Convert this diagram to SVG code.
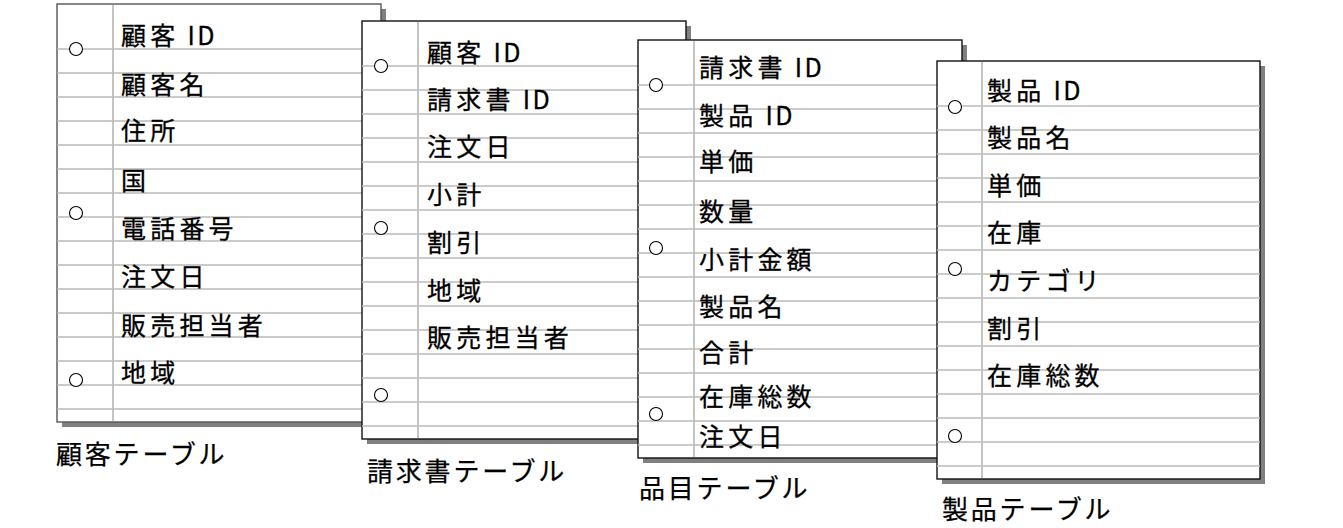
<svg xmlns="http://www.w3.org/2000/svg" width="1343" height="528" viewBox="0 0 1343 528">
<style>
.bg{fill:#ffffff}
.shadow{fill:#808080}
.sheet{fill:#ffffff;stroke:#111111;stroke-width:1.4}
.rule{fill:none;stroke:#bbbbbb;stroke-width:1.7}
.hole{fill:#ffffff;stroke:#000000;stroke-width:1.1}
.t{font-family:"Noto Sans CJK JP","Noto Sans",sans-serif;font-size:25px;letter-spacing:4.2px;fill:#000;stroke:#000;stroke-width:0.3}
.id{letter-spacing:2.5px}
.cap{font-family:"Noto Sans CJK JP","Noto Sans",sans-serif;font-size:26px;letter-spacing:2.8px;fill:#000;stroke:#000;stroke-width:0.25}
</style>
<rect class="bg" x="0" y="0" width="1343" height="528"/>
<g id="connectors"></g>

<g id="customer-table" transform="translate(57,4)">
<rect class="shadow" x="5" y="5" width="324" height="418"/>
<rect class="sheet" x="0" y="0" width="324" height="418" style="stroke:#555"/>
<path class="rule" d="M0 45h324M0 69h324M0 93h324M0 117h324M0 141h324M0 165h324M0 189h324M0 213h324M0 237h324M0 261h324M0 285h324M0 309h324M0 333h324M0 357h324M0 381h324M0 405h324M56 1v416"/>
<circle class="hole" cx="19" cy="45" r="6.5"/>
<circle class="hole" cx="19" cy="209" r="6.5"/>
<circle class="hole" cx="19" cy="376" r="6.5"/>
<text class="t" x="64" y="41">顧客<tspan class="id"> ID</tspan></text>
<text class="t" x="64" y="90">顧客名</text>
<text class="t" x="64" y="136">住所</text>
<text class="t" x="64" y="186">国</text>
<text class="t" x="64" y="234">電話番号</text>
<text class="t" x="64" y="282">注文日</text>
<text class="t" x="64" y="331">販売担当者</text>
<text class="t" x="64" y="378">地域</text>
<text class="cap" x="-1" y="459.5">顧客テーブル</text>
</g>

<g id="invoice-table" transform="translate(362,21)">
<rect class="shadow" x="5" y="5" width="324" height="418"/>
<rect class="sheet" x="0" y="0" width="324" height="418"/>
<path class="rule" d="M0 45h324M0 69h324M0 93h324M0 117h324M0 141h324M0 165h324M0 189h324M0 213h324M0 237h324M0 261h324M0 285h324M0 309h324M0 333h324M0 357h324M0 381h324M0 405h324M56 1v416"/>
<circle class="hole" cx="19" cy="45" r="6.5"/>
<circle class="hole" cx="19" cy="207" r="6.5"/>
<circle class="hole" cx="19" cy="374" r="6.5"/>
<text class="t" x="65" y="41">顧客<tspan class="id"> ID</tspan></text>
<text class="t" x="65" y="88">請求書<tspan class="id"> ID</tspan></text>
<text class="t" x="65" y="135">注文日</text>
<text class="t" x="65" y="183">小計</text>
<text class="t" x="65" y="231">割引</text>
<text class="t" x="65" y="279">地域</text>
<text class="t" x="65" y="326">販売担当者</text>
<text class="cap" x="5" y="460">請求書テーブル</text>
</g>

<g id="item-table" transform="translate(638,40)">
<rect class="shadow" x="5" y="5" width="324" height="418"/>
<rect class="sheet" x="0" y="0" width="324" height="418"/>
<path class="rule" d="M0 45h324M0 69h324M0 93h324M0 117h324M0 141h324M0 165h324M0 189h324M0 213h324M0 237h324M0 261h324M0 285h324M0 309h324M0 333h324M0 357h324M0 381h324M0 405h324M56 1v416"/>
<circle class="hole" cx="18" cy="45" r="6.5"/>
<circle class="hole" cx="18" cy="208" r="6.5"/>
<circle class="hole" cx="18" cy="374" r="6.5"/>
<text class="t" x="61" y="37">請求書<tspan class="id"> ID</tspan></text>
<text class="t" x="61" y="85">製品<tspan class="id"> ID</tspan></text>
<text class="t" x="61" y="131">単価</text>
<text class="t" x="61" y="181">数量</text>
<text class="t" x="61" y="229">小計金額</text>
<text class="t" x="61" y="276">製品名</text>
<text class="t" x="61" y="322">合計</text>
<text class="t" x="61" y="366">在庫総数</text>
<text class="t" x="61" y="406">注文日</text>
<text class="cap" x="1" y="458">品目テーブル</text>
</g>

<g id="product-table" transform="translate(937,61)">
<rect class="shadow" x="5" y="5" width="323" height="418"/>
<rect class="sheet" x="0" y="0" width="323" height="418"/>
<path class="rule" d="M0 45h323M0 69h323M0 93h323M0 117h323M0 141h323M0 165h323M0 189h323M0 213h323M0 237h323M0 261h323M0 285h323M0 309h323M0 333h323M0 357h323M0 381h323M0 405h323M45 1v416"/>
<circle class="hole" cx="18" cy="46" r="6.5"/>
<circle class="hole" cx="18" cy="208" r="6.5"/>
<circle class="hole" cx="18" cy="375" r="6.5"/>
<text class="t" x="50" y="39">製品<tspan class="id"> ID</tspan></text>
<text class="t" x="50" y="86">製品名</text>
<text class="t" x="50" y="134">単価</text>
<text class="t" x="50" y="181">在庫</text>
<text class="t" x="50" y="229">カテゴリ</text>
<text class="t" x="50" y="277">割引</text>
<text class="t" x="50" y="324">在庫総数</text>
<text class="cap" x="5" y="458">製品テーブル</text>
</g>
</svg>
